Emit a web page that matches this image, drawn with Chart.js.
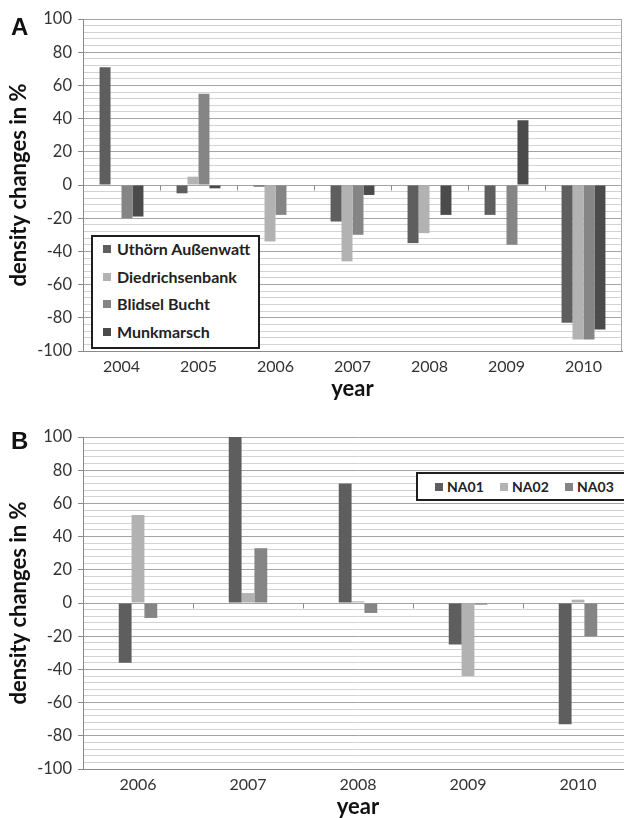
<!DOCTYPE html>
<html>
<head>
<meta charset="utf-8">
<script src="https://cdn.jsdelivr.net/npm/chart.js@4.4.1/dist/chart.umd.min.js"></script>
<style>
  body { margin: 0; width: 624px; height: 818px; overflow: hidden; background: #fff; position: relative; }
  .panel { position: absolute; left: 0; }
  .tag { position: absolute; font: bold 24px "Liberation Sans", Arial, sans-serif; color: #111; line-height: 1; }
  .legend { position: absolute; border: 2px solid #1e1e1e; background: #fff; box-sizing: border-box; }
  .legend .item { position: absolute; left: 0; height: 22px; }
  .legend .sw { position: absolute; top: 7px; width: 8px; height: 8px; }
  .legend .txt { position: absolute; top: 0; line-height: 22px; font-family: Lato, sans-serif; font-weight: bold; color: #222; white-space: nowrap; }
</style>
</head>
<body>
<div class="panel" style="top:0;width:624px;height:400px"><canvas id="chartA" width="624" height="400"></canvas></div>
<div class="panel" style="top:400px;width:640px;height:418px"><canvas id="chartB" width="640" height="418"></canvas></div>
<div class="tag" style="left:11px;top:15px">A</div>
<div class="tag" style="left:11px;top:429px">B</div>
<div class="legend" id="legendA" style="left:91px;top:235px;width:169px;height:114px"></div>
<div class="legend" id="legendB" style="left:416px;top:472px;width:230px;height:29px"></div>
<script>
// panel A
const yearsA = ['2004', '2005', '2006', '2007', '2008', '2009', '2010'];
const uthorn = [71, -5, -1, -22, -35, -18, -83];
const diedrichsenbank = [0, 5, -34, -46, -29, 0, -93];
const blidsel = [-20, 55, -18, -30, 0, -36, -93];
const munkmarsch = [-19, -2, 0, -6, -18, 39, -87];

// panel B
const yearsB = ['2006', '2007', '2008', '2009', '2010'];
const na01 = [-36, 100, 72, -25, -73];
const na02 = [53, 6, 1, -44, 2];
const na03 = [-9, 33, -6, -1, -20];

// y axis
const yMin = -100;
const yMax = 100;
const majorStep = 20;
const minorStep = 4;
const yTickValues = [];
for (let v = yMin; v <= yMax; v += minorStep) yTickValues.push(v);

const cDark = '#5e5e5e';
const cLight = '#b2b2b2';
const cMid = '#858585';
const cDarker = '#4b4b4b';

Chart.defaults.font.family = 'Lato, sans-serif';

const zeroTicks = {
  id: 'zeroTicks',
  afterDatasetsDraw(chart) {
    const { ctx, scales: { x, y } } = chart;
    const y0 = Math.round(y.getPixelForValue(0)) + 0.5;
    ctx.save();
    ctx.strokeStyle = '#8a8a8a';
    ctx.lineWidth = 1;
    for (let i = 1; i < x.ticks.length; i++) {
      const xb = Math.round((x.getPixelForTick(i - 1) + x.getPixelForTick(i)) / 2) + 0.5;
      ctx.beginPath();
      ctx.moveTo(xb, y0);
      ctx.lineTo(xb, y0 + 5);
      ctx.stroke();
    }
    ctx.restore();
  }
};

const frame = {
  id: 'frame',
  beforeDatasetsDraw(chart) {
    const { ctx, chartArea: a } = chart;
    ctx.save();
    ctx.strokeStyle = '#a8a8a8';
    ctx.lineWidth = 1;
    ctx.beginPath();
    ctx.moveTo(Math.round(a.right) - 0.5, a.top);
    ctx.lineTo(Math.round(a.right) - 0.5, a.bottom);
    ctx.stroke();
    ctx.restore();
  }
};

function makeChart(id, labels, datasets, catPct, padTop, padRight) {
  return new Chart(document.getElementById(id), {
    type: 'bar',
    data: { labels, datasets },
    options: {
      responsive: false,
      animation: false,
      layout: { padding: { top: padTop, right: padRight, left: 0, bottom: 0 } },
      datasets: { bar: { categoryPercentage: catPct, barPercentage: 1, borderWidth: 0 } },
      plugins: { legend: { display: false }, tooltip: { enabled: false } },
      scales: {
        x: {
          afterFit: s => { s.height = 49; },
          grid: { display: false, drawTicks: false },
          border: { display: true, color: '#8a8a8a' },
          ticks: { padding: 6, color: '#333', font: { size: 16 } },
          title: { display: true, text: 'year', color: '#111', font: { size: 22, weight: 'bold' }, padding: { top: 0, bottom: -2 } }
        },
        y: {
          min: yMin,
          max: yMax,
          afterFit: s => { s.width = 83; },
          afterBuildTicks: s => { s.ticks = yTickValues.map(v => ({ value: v })); },
          ticks: {
            autoSkip: false,
            padding: 6,
            color: '#333',
            font: { size: 16.5 },
            callback: v => (v % majorStep === 0 ? v : '')
          },
          grid: {
            color: ctx => (ctx.tick && ctx.tick.value % majorStep === 0 ? '#a4a4a4' : '#d3d3d3'),
            tickColor: ctx => (ctx.tick && ctx.tick.value % majorStep === 0 ? '#8a8a8a' : 'rgba(0,0,0,0)'),
            tickLength: 5,
            lineWidth: 1
          },
          border: { color: '#8a8a8a' },
          title: { display: true, text: 'density changes in %', color: '#111', font: { size: 22, weight: 'bold' }, padding: { top: 6, bottom: 0 } }
        }
      }
    },
    plugins: [frame, zeroTicks]
  });
}

const dsA = [
  { label: 'Uthörn Außenwatt', data: uthorn, backgroundColor: cDark },
  { label: 'Diedrichsenbank', data: diedrichsenbank, backgroundColor: cLight },
  { label: 'Blidsel Bucht', data: blidsel, backgroundColor: cMid },
  { label: 'Munkmarsch', data: munkmarsch, backgroundColor: cDarker }
];
const dsB = [
  { label: 'NA01', data: na01, backgroundColor: cDark },
  { label: 'NA02', data: na02, backgroundColor: cLight },
  { label: 'NA03', data: na03, backgroundColor: cMid }
];

makeChart('chartA', yearsA, dsA, 0.57, 19, 2);
makeChart('chartB', yearsB, dsB, 0.35, 37, 7);

// html legends built from the dataset labels and colours
function buildLegend(el, datasets, place, fontSize) {
  datasets.forEach((d, i) => {
    const p = place(i);
    const item = document.createElement('div');
    item.className = 'item';
    item.style.top = p.top + 'px';
    const sw = document.createElement('span');
    sw.className = 'sw';
    sw.style.left = p.sw + 'px';
    sw.style.background = d.backgroundColor;
    const t = document.createElement('span');
    t.className = 'txt';
    t.style.left = p.txt + 'px';
    t.style.fontSize = fontSize + 'px';
    t.textContent = d.label;
    item.appendChild(sw);
    item.appendChild(t);
    el.appendChild(item);
  });
}
buildLegend(document.getElementById('legendA'), dsA, i => ({ top: 1 + i * 27.6, sw: 10, txt: 24 }), 16);
buildLegend(document.getElementById('legendB'), dsB, i => ({ top: 1.5, sw: 17 + i * 65, txt: 29 + i * 65 }), 14);
</script>
</body>
</html>
